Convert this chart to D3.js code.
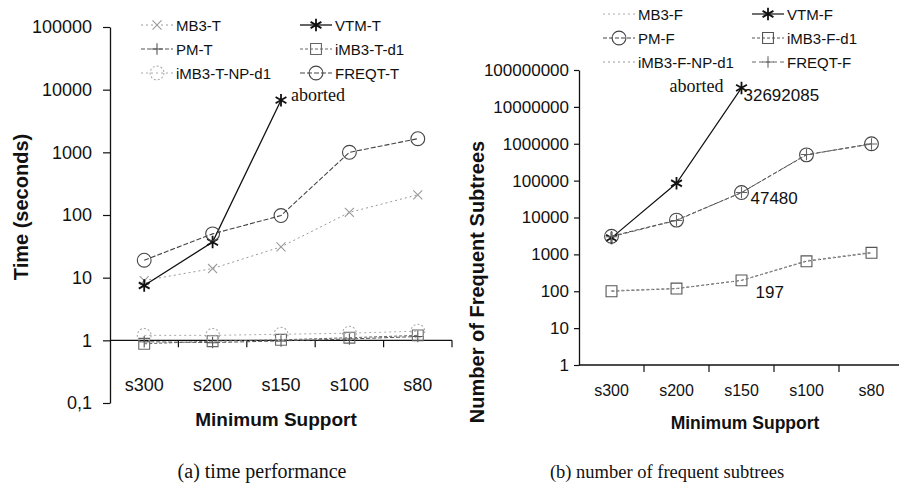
<!DOCTYPE html>
<html>
<head>
<meta charset="utf-8">
<script src="https://cdn.jsdelivr.net/npm/d3@7"></script>
<style>
  body { margin: 0; background: #fff; }
  text { font-family: "Liberation Sans", Arial, sans-serif; fill: #111; }
  .serif { font-family: "Liberation Serif", "Times New Roman", serif; }
</style>
</head>
<body>
<script>

// categories (minimum support)
var categories = ["s300", "s200", "s150", "s100", "s80"];

// (a) time in seconds
var mb3T    = [9, 14, 31, 110, 210];
var vtmT    = [7.5, 37, 6800];          // aborted after s150
var pmT     = [0.95, 0.92, 0.98, 1.05, 1.15];
var imb3Td1 = [0.88, 0.97, 1.02, 1.1, 1.2];
var npT     = [1.2, 1.2, 1.25, 1.3, 1.4];
var freqtT  = [19, 50, 98, 1000, 1650];

// (b) number of frequent subtrees
var mb3F    = [105, 120, 197, 680, 1150];
var vtmF    = [2800, 85000, 32692085];  // aborted after s150
var pmF     = [3100, 8500, 47480, 500000, 1000000];
var imb3Fd1 = [100, 118, 197, 650, 1100];
var npF     = [102, 118, 197, 660, 1120];
var freqtF  = [3000, 8300, 47480, 510000, 980000];

// tick labels
var timeTicks = [0.1, 1, 10, 100, 1000, 10000, 100000];
var timeTickLabels = ["0,1", "1", "10", "100", "1000", "10000", "100000"];
var freqTicks = [1, 10, 100, 1000, 10000, 100000, 1000000, 10000000, 100000000];
var freqTickLabels = ["1", "10", "100", "1000", "10000", "100000", "1000000", "10000000", "100000000"];


var svg = d3.select("body")
    .append("svg")
    .attr("width", 899)
    .attr("height", 492);


function marker(g, type, x, y, color) {
    if (type == "none") return;
    var sym, size;
    if (type == "asterisk") { sym = d3.symbolAsterisk; size = 110; }
    else if (type == "x") { sym = d3.symbolTimes; size = 55; }
    else if (type == "plus") { sym = d3.symbolPlus; size = 45; }
    else if (type == "square") { sym = d3.symbolSquare2; size = 150; }
    else { sym = d3.symbolCircle; size = 150; }
    var p = g.append("path")
        .attr("d", d3.symbol().type(sym).size(size)())
        .attr("transform", "translate(" + x + "," + y + ")")
        .attr("fill", "none")
        .attr("stroke", color)
        .attr("stroke-width", type == "asterisk" ? 1.8 : 1.1);
    if (type == "dcircle") p.attr("stroke-dasharray", "2,2");
}


function drawPanel(cfg) {
    var g = svg.append("g");
    var x = cfg.x, y = cfg.y;
    var bw = x.bandwidth();
    var cx = function(i) { return x(categories[i]) + bw / 2; };

    // y axis
    g.append("g")
        .attr("transform", "translate(" + x.range()[0] + ",0)")
        .call(d3.axisLeft(y)
            .tickValues(cfg.ticks)
            .tickFormat(function(d, i) { return cfg.tickLabels[i]; })
            .tickSize(cfg.tickSize)
            .tickSizeOuter(0)
            .tickPadding(cfg.tickPad))
        .call(function(a) {
            a.select(".domain").attr("stroke", "#111").attr("stroke-width", 1.3);
            a.selectAll(".tick line").attr("stroke", "#111").attr("stroke-width", 1.2);
            a.selectAll("text").style("font-size", cfg.yFont + "px").attr("fill", "#111");
        });

    // x axis line crossing at 1, ticks between categories
    var xa = g.append("g").attr("transform", "translate(0," + y(1) + ")");
    xa.append("line")
        .attr("x1", x.range()[0]).attr("x2", x.range()[1])
        .attr("stroke", "#111").attr("stroke-width", 1.3);
    xa.selectAll(".sep")
        .data(categories.slice(1).concat(["end"]))
        .enter()
        .append("line")
        .attr("x1", function(d) { return d == "end" ? x.range()[1] : x(d); })
        .attr("x2", function(d) { return d == "end" ? x.range()[1] : x(d); })
        .attr("y1", 0).attr("y2", 7)
        .attr("stroke", "#111").attr("stroke-width", 1.2);

    // category labels
    g.append("g")
        .attr("transform", "translate(0," + cfg.catY + ")")
        .call(d3.axisBottom(x).tickSize(0).tickPadding(0))
        .call(function(a) {
            a.select(".domain").remove();
            a.selectAll("text").style("font-size", cfg.xFont + "px").attr("fill", "#111");
        });

    // series
    cfg.series.forEach(function(s) {
        var line = d3.line()
            .x(function(d, i) { return cx(i); })
            .y(function(d) { return y(d); });
        g.append("path")
            .datum(s.values)
            .attr("d", line)
            .attr("fill", "none")
            .attr("stroke", s.color)
            .attr("stroke-width", s.width)
            .attr("stroke-dasharray", s.dash);
        s.values.forEach(function(v, i) {
            marker(g, s.marker, cx(i), y(v), s.color);
        });
    });

    // legend
    cfg.series.forEach(function(s, k) {
        var col = k % 2, row = Math.floor(k / 2);
        var lx = cfg.legX[col], ly = cfg.legY[row];
        g.append("line")
            .attr("x1", lx).attr("x2", lx + 32)
            .attr("y1", ly).attr("y2", ly)
            .attr("stroke", s.color)
            .attr("stroke-width", s.width)
            .attr("stroke-dasharray", s.dash);
        marker(g, s.marker, lx + 16, ly, s.color);
        g.append("text")
            .attr("x", lx + 35)
            .attr("y", ly + 5.5)
            .style("font-size", "15px")
            .text(s.name);
    });

    // axis titles
    g.append("text")
        .attr("transform", "translate(" + cfg.yTitleX + "," + cfg.yTitleY + ") rotate(-90)")
        .attr("text-anchor", "middle")
        .style("font-size", cfg.yTitleFont + "px")
        .style("font-weight", "bold")
        .text(cfg.yTitle);

    g.append("text")
        .attr("x", cfg.xTitleX)
        .attr("y", cfg.xTitleY)
        .attr("text-anchor", "middle")
        .style("font-size", cfg.xTitleFont + "px")
        .style("font-weight", "bold")
        .text("Minimum Support");

    g.append("text")
        .attr("class", "serif")
        .attr("x", cfg.capX)
        .attr("y", 478)
        .attr("text-anchor", "middle")
        .style("font-size", cfg.capFont + "px")
        .text(cfg.caption);

    return { g: g, cx: cx, y: y };
}


// (a) time performance
var a = drawPanel({
    x: d3.scaleBand().domain(categories).range([110, 452]),
    y: d3.scaleLog().domain([0.1, 100000]).range([403, 27]),
    ticks: timeTicks, tickLabels: timeTickLabels,
    tickSize: 7, tickPad: 11, yFont: 18, xFont: 18, catY: 378,
    legX: [141, 300], legY: [25, 49, 73],
    yTitle: "Time (seconds)", yTitleX: 28, yTitleY: 207, yTitleFont: 20,
    xTitleX: 276, xTitleY: 426, xTitleFont: 19,
    caption: "(a) time performance", capX: 262, capFont: 20,
    series: [
        { name: "MB3-T", values: mb3T, color: "#9a9a9a", width: 1, dash: "2,3", marker: "x" },
        { name: "VTM-T", values: vtmT, color: "#111", width: 1.3, dash: null, marker: "asterisk" },
        { name: "PM-T", values: pmT, color: "#555", width: 1, dash: "4,2", marker: "plus" },
        { name: "iMB3-T-d1", values: imb3Td1, color: "#666", width: 1, dash: "3,2", marker: "square" },
        { name: "iMB3-T-NP-d1", values: npT, color: "#aaa", width: 1, dash: "2,3", marker: "dcircle" },
        { name: "FREQT-T", values: freqtT, color: "#444", width: 1.1, dash: "5,2", marker: "circle" }
    ]
});

a.g.append("text")
    .attr("class", "serif")
    .attr("x", a.cx(2) + 10)
    .attr("y", a.y(vtmT[2]) + 1)
    .style("font-size", "18px")
    .text("aborted");


// (b) number of frequent subtrees
var b = drawPanel({
    x: d3.scaleBand().domain(categories).range([579, 904]),
    y: d3.scaleLog().domain([1, 100000000]).range([365, 70]),
    ticks: freqTicks, tickLabels: freqTickLabels,
    tickSize: 5, tickPad: 5, yFont: 17, xFont: 16, catY: 385,
    legX: [603, 752], legY: [14, 38, 62],
    yTitle: "Number of Frequent Subtrees", yTitleX: 484, yTitleY: 282, yTitleFont: 20,
    xTitleX: 745, xTitleY: 429, xTitleFont: 17.5,
    caption: "(b) number of frequent subtrees", capX: 667, capFont: 18.5,
    series: [
        { name: "MB3-F", values: mb3F, color: "#aaa", width: 1, dash: "2,3", marker: "none" },
        { name: "VTM-F", values: vtmF, color: "#111", width: 1.2, dash: null, marker: "asterisk" },
        { name: "PM-F", values: pmF, color: "#444", width: 1, dash: "4,2", marker: "circle" },
        { name: "iMB3-F-d1", values: imb3Fd1, color: "#555", width: 1, dash: "3,2", marker: "square" },
        { name: "iMB3-F-NP-d1", values: npF, color: "#999", width: 1, dash: "2,3", marker: "none" },
        { name: "FREQT-F", values: freqtF, color: "#666", width: 1, dash: "4,3", marker: "plus" }
    ]
});

b.g.append("text")
    .attr("class", "serif")
    .attr("x", b.cx(2) - 18)
    .attr("y", b.y(vtmF[2]) + 4)
    .attr("text-anchor", "end")
    .style("font-size", "18px")
    .text("aborted");

b.g.append("text")
    .attr("x", b.cx(2) + 2)
    .attr("y", b.y(vtmF[2]) + 13)
    .style("font-size", "17px")
    .text("32692085");

b.g.append("text")
    .attr("x", b.cx(2) + 9)
    .attr("y", b.y(pmF[2]) + 11)
    .style("font-size", "17px")
    .text("47480");

b.g.append("text")
    .attr("x", b.cx(2) + 14)
    .attr("y", b.y(mb3F[2]) + 18)
    .style("font-size", "17px")
    .text("197");

</script>
</body>
</html>
